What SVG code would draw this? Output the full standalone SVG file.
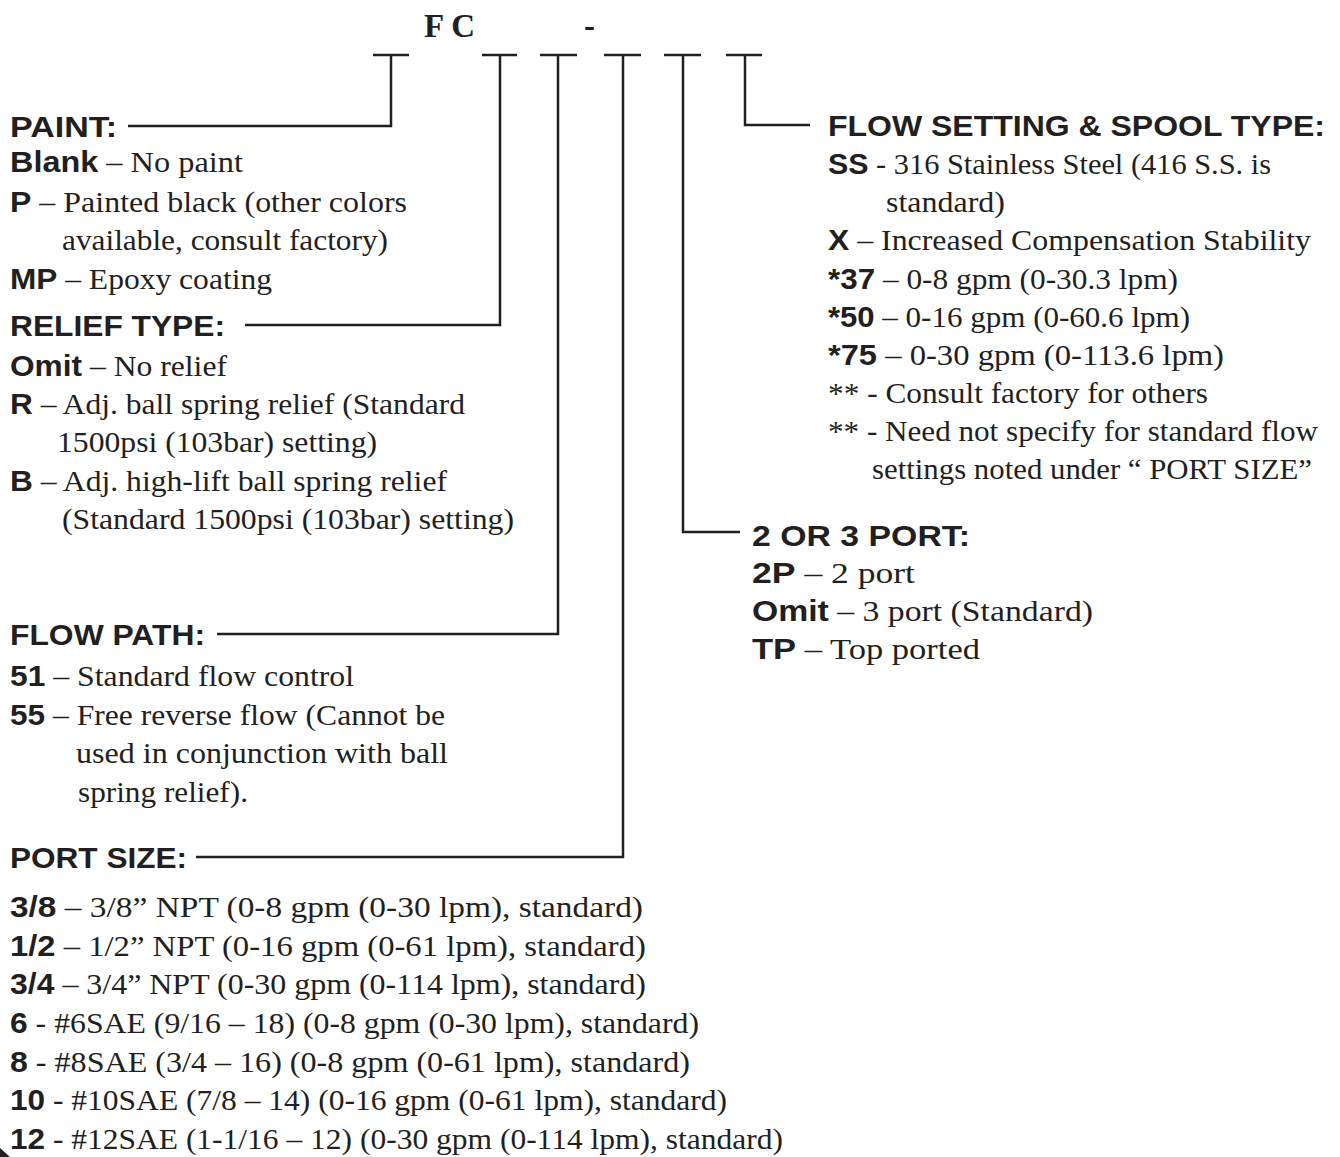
<svg xmlns="http://www.w3.org/2000/svg" width="1340" height="1157" viewBox="0 0 1340 1157">
<style>
.h{font-family:"Liberation Sans",Arial,sans-serif;font-weight:bold;font-size:30px;fill:#231f20}
.k{font-family:"Liberation Sans",Arial,sans-serif;font-weight:bold;font-size:29px}
.t{font-family:"Liberation Serif","Times New Roman",serif;font-size:29px;fill:#231f20}
.ln{fill:none;stroke:#231f20;stroke-width:2.5}
.c{font-family:"Liberation Serif",serif;font-weight:bold;font-size:33px;fill:#231f20}
</style>
<rect width="1340" height="1157" fill="#fff"/>
<g id="code">
<text class="c" x="424" y="37">F C</text>
<text class="c" x="584" y="37">-</text>
</g>
<g id="connectors" class="ln">
<path d="M373 55H409M391 55V126H128"/>
<path d="M482 55H517M500 55V325H245"/>
<path d="M540 55H577M558 55V634H217"/>
<path d="M604 55H641M623 55V857H196"/>
<path d="M664 55H701M683 55V532H740"/>
<path d="M726 55H762M745 55V125H810"/>
</g>
<g id="paint">
<text class="h" x="10" y="137" textLength="107" lengthAdjust="spacingAndGlyphs">PAINT:</text>
<text class="t" x="10" y="172" textLength="233" lengthAdjust="spacingAndGlyphs"><tspan class="k">Blank</tspan> – No paint</text>
<text class="t" x="10" y="212" textLength="397" lengthAdjust="spacingAndGlyphs"><tspan class="k">P</tspan> – Painted black (other colors</text>
<text class="t" x="62" y="250" textLength="326" lengthAdjust="spacingAndGlyphs">available, consult factory)</text>
<text class="t" x="10" y="289" textLength="262" lengthAdjust="spacingAndGlyphs"><tspan class="k">MP</tspan> – Epoxy coating</text>
</g>
<g id="relief">
<text class="h" x="10" y="336" textLength="215" lengthAdjust="spacingAndGlyphs">RELIEF TYPE:</text>
<text class="t" x="10" y="376" textLength="217" lengthAdjust="spacingAndGlyphs"><tspan class="k">Omit</tspan> – No relief</text>
<text class="t" x="10" y="414" textLength="455" lengthAdjust="spacingAndGlyphs"><tspan class="k">R</tspan> – Adj. ball spring relief (Standard</text>
<text class="t" x="57" y="452" textLength="320" lengthAdjust="spacingAndGlyphs">1500psi (103bar) setting)</text>
<text class="t" x="10" y="491" textLength="437" lengthAdjust="spacingAndGlyphs"><tspan class="k">B</tspan> – Adj. high-lift ball spring relief</text>
<text class="t" x="62" y="529" textLength="452" lengthAdjust="spacingAndGlyphs">(Standard 1500psi (103bar) setting)</text>
</g>
<g id="flowpath">
<text class="h" x="10" y="645" textLength="195" lengthAdjust="spacingAndGlyphs">FLOW PATH:</text>
<text class="t" x="10" y="686" textLength="344" lengthAdjust="spacingAndGlyphs"><tspan class="k">51</tspan> – Standard flow control</text>
<text class="t" x="10" y="725" textLength="435" lengthAdjust="spacingAndGlyphs"><tspan class="k">55</tspan> – Free reverse flow (Cannot be</text>
<text class="t" x="76" y="763" textLength="372" lengthAdjust="spacingAndGlyphs">used in conjunction with ball</text>
<text class="t" x="78" y="802" textLength="170" lengthAdjust="spacingAndGlyphs">spring relief).</text>
</g>
<g id="portsize">
<text class="h" x="10" y="868" textLength="177" lengthAdjust="spacingAndGlyphs">PORT SIZE:</text>
<text class="t" x="10" y="917" textLength="633" lengthAdjust="spacingAndGlyphs"><tspan class="k">3/8</tspan> – 3/8” NPT (0-8 gpm (0-30 lpm), standard)</text>
<text class="t" x="10" y="956" textLength="636" lengthAdjust="spacingAndGlyphs"><tspan class="k">1/2</tspan> – 1/2” NPT (0-16 gpm (0-61 lpm), standard)</text>
<text class="t" x="10" y="994" textLength="636" lengthAdjust="spacingAndGlyphs"><tspan class="k">3/4</tspan> – 3/4” NPT (0-30 gpm (0-114 lpm), standard)</text>
<text class="t" x="10" y="1033" textLength="689" lengthAdjust="spacingAndGlyphs"><tspan class="k">6</tspan> - #6SAE (9/16 – 18) (0-8 gpm (0-30 lpm), standard)</text>
<text class="t" x="10" y="1072" textLength="680" lengthAdjust="spacingAndGlyphs"><tspan class="k">8</tspan> - #8SAE (3/4 – 16) (0-8 gpm (0-61 lpm), standard)</text>
<text class="t" x="10" y="1110" textLength="717" lengthAdjust="spacingAndGlyphs"><tspan class="k">10</tspan> - #10SAE (7/8 – 14) (0-16 gpm (0-61 lpm), standard)</text>
<text class="t" x="10" y="1149" textLength="773" lengthAdjust="spacingAndGlyphs"><tspan class="k">12</tspan> - #12SAE (1-1/16 – 12) (0-30 gpm (0-114 lpm), standard)</text>
</g>
<g id="flowsetting">
<text class="h" x="828" y="136" textLength="497" lengthAdjust="spacingAndGlyphs">FLOW SETTING &amp; SPOOL TYPE:</text>
<text class="t" x="828" y="174" textLength="443" lengthAdjust="spacingAndGlyphs"><tspan class="k">SS</tspan> - 316 Stainless Steel (416 S.S. is</text>
<text class="t" x="886" y="212" textLength="119" lengthAdjust="spacingAndGlyphs">standard)</text>
<text class="t" x="828" y="250" textLength="483" lengthAdjust="spacingAndGlyphs"><tspan class="k">X</tspan> – Increased Compensation Stability</text>
<text class="t" x="828" y="289" textLength="350" lengthAdjust="spacingAndGlyphs"><tspan class="k">*37</tspan> – 0-8 gpm (0-30.3 lpm)</text>
<text class="t" x="828" y="327" textLength="362" lengthAdjust="spacingAndGlyphs"><tspan class="k">*50</tspan> – 0-16 gpm (0-60.6 lpm)</text>
<text class="t" x="828" y="365" textLength="396" lengthAdjust="spacingAndGlyphs"><tspan class="k">*75</tspan> – 0-30 gpm (0-113.6 lpm)</text>
<text class="t" x="828" y="403" textLength="380" lengthAdjust="spacingAndGlyphs">** - Consult factory for others</text>
<text class="t" x="828" y="441" textLength="490" lengthAdjust="spacingAndGlyphs">** - Need not specify for standard flow</text>
<text class="t" x="872" y="479" textLength="440" lengthAdjust="spacingAndGlyphs">settings noted under “ PORT SIZE”</text>
</g>
<g id="ports">
<text class="h" x="752" y="546" textLength="218" lengthAdjust="spacingAndGlyphs">2 OR 3 PORT:</text>
<text class="t" x="752" y="583" textLength="163" lengthAdjust="spacingAndGlyphs"><tspan class="k">2P</tspan> – 2 port</text>
<text class="t" x="752" y="621" textLength="341" lengthAdjust="spacingAndGlyphs"><tspan class="k">Omit</tspan> – 3 port (Standard)</text>
<text class="t" x="752" y="659" textLength="228" lengthAdjust="spacingAndGlyphs"><tspan class="k">TP</tspan> – Top ported</text>
</g>
<polygon points="0,1148 10,1157 0,1157" fill="#231f20"/>
</svg>
